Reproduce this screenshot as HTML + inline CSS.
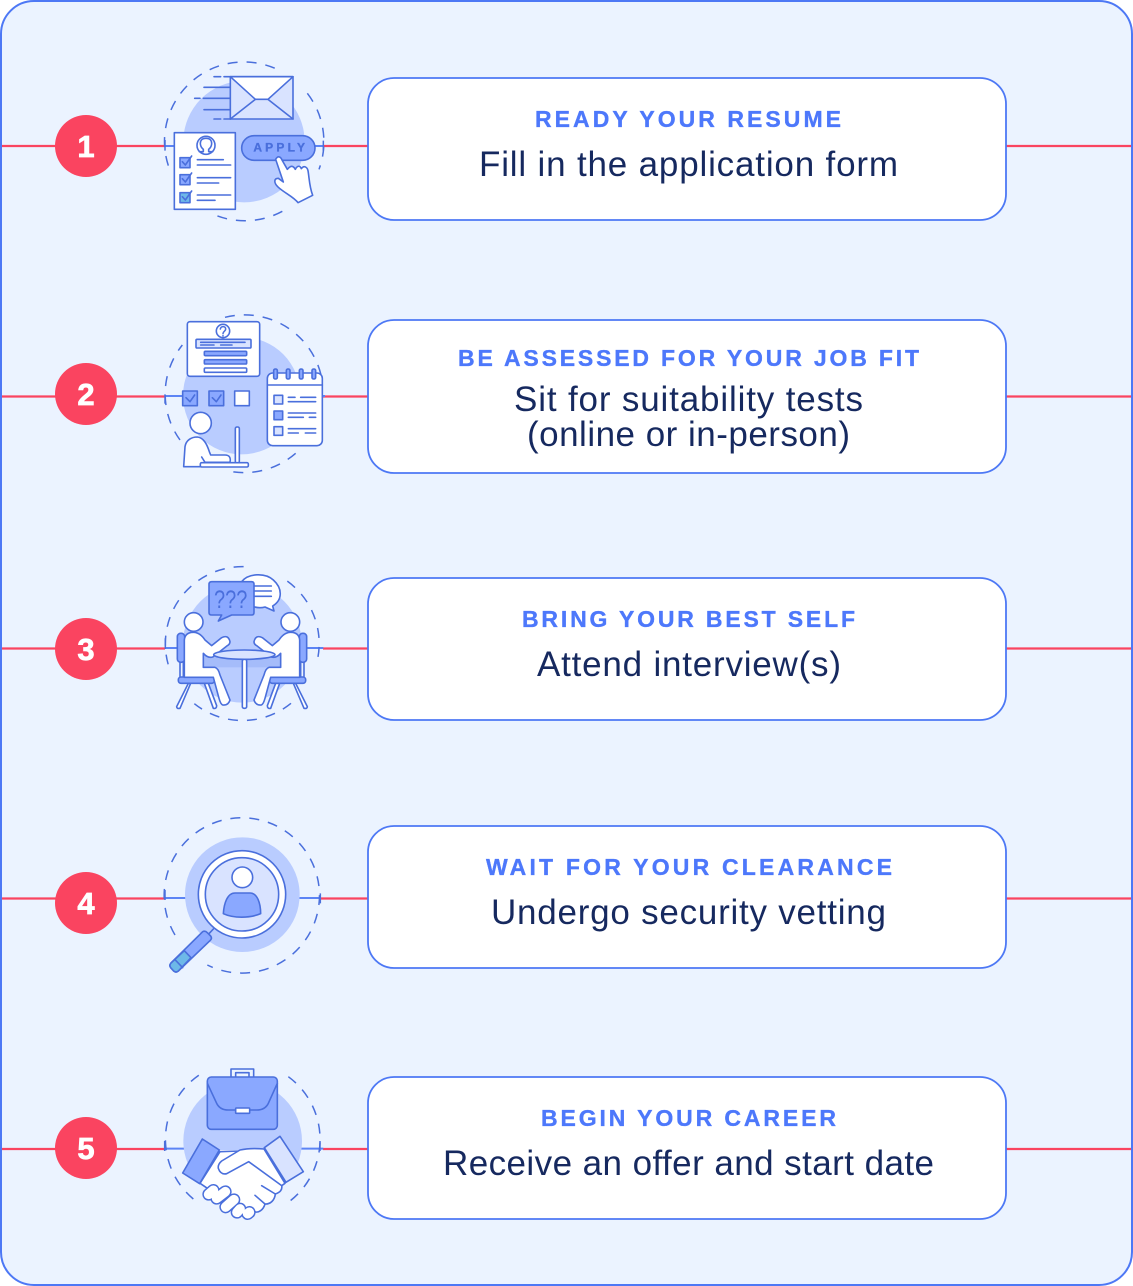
<!DOCTYPE html>
<html><head><meta charset="utf-8"><style>
html,body{margin:0;padding:0;background:#fff}
svg{display:block}
.l{font:700 23px "Liberation Sans",sans-serif;fill:#4d78fb;stroke:#4d78fb;stroke-width:.35;text-anchor:start}
.b{font:400 35px "Liberation Sans",sans-serif;fill:#16295f;text-anchor:start}
.n{font:700 31px "Liberation Sans",sans-serif;fill:#fff;stroke:#fff;stroke-width:.7;text-anchor:middle}
.bx{fill:#fff;stroke:#4d78f5;stroke-width:1.8}
.r{stroke:#fa4460;stroke-width:2.2;fill:none}
.i{stroke:#4a6fdc;stroke-width:4.8;fill:#fff;stroke-linejoin:round;stroke-linecap:round}
.i .m{fill:#8aa8ff}.i .p{fill:#d9e3ff}.i .t{fill:#6db8e8}.i .no{fill:none}
.d{fill:none;stroke:#4a6fdc;stroke-width:4.5;stroke-dasharray:30 27}
.k{fill:none;stroke:#4a6fdc;stroke-width:4.5}
.lc{fill:#b9ccff}
</style></head><body>
<svg width="1133" height="1286" viewBox="0 0 1133 1286" xmlns="http://www.w3.org/2000/svg">
<rect x="1" y="1" width="1131" height="1284" rx="33" fill="#ebf3ff" stroke="#4d78f5" stroke-width="2"/>

<!-- connectors -->
<path class="r" d="M2 146H165M323 146H368M1006 146H1131"/>
<path class="r" d="M2 396.500H165M323 396.500H368M1006 396.500H1131"/>
<path class="r" d="M2 648.500H165M323 648.500H368M1006 648.500H1131"/>
<path class="r" d="M2 898.500H165M320 898.500H368M1006 898.500H1131"/>
<path class="r" d="M2 1149H165M323 1149H368M1006 1149H1131"/>

<!-- number badges -->
<circle cx="86" cy="146" r="31" fill="#fa4460"/><text class="n" x="86" y="157">1</text>
<circle cx="86" cy="394" r="31" fill="#fa4460"/><text class="n" x="86" y="405">2</text>
<circle cx="86" cy="649" r="31" fill="#fa4460"/><text class="n" x="86" y="660">3</text>
<circle cx="86" cy="903" r="31" fill="#fa4460"/><text class="n" x="86" y="914">4</text>
<circle cx="86" cy="1148" r="31" fill="#fa4460"/><text class="n" x="86" y="1159">5</text>

<!-- cards -->
<rect class="bx" x="368" y="78" width="638" height="142" rx="26"/>
<rect class="bx" x="368" y="320" width="638" height="153" rx="26"/>
<rect class="bx" x="368" y="578" width="638" height="142" rx="26"/>
<rect class="bx" x="368" y="826" width="638" height="142" rx="26"/>
<rect class="bx" x="368" y="1077" width="638" height="142" rx="26"/>

<text class="l" x="535" y="127" textLength="306" lengthAdjust="spacing">READY YOUR RESUME</text>
<text class="b" x="479" y="176" textLength="419" lengthAdjust="spacing">Fill in the application form</text>
<text class="l" x="458" y="366" textLength="461" lengthAdjust="spacing">BE ASSESSED FOR YOUR JOB FIT</text>
<text class="b" x="514" y="411" textLength="349" lengthAdjust="spacing">Sit for suitability tests</text>
<text class="b" x="527" y="446" textLength="323" lengthAdjust="spacing">(online or in-person)</text>
<text class="l" x="522" y="627" textLength="333" lengthAdjust="spacing">BRING YOUR BEST SELF</text>
<text class="b" x="537" y="676" textLength="304" lengthAdjust="spacing">Attend interview(s)</text>
<text class="l" x="486" y="875" textLength="406" lengthAdjust="spacing">WAIT FOR YOUR CLEARANCE</text>
<text class="b" x="491" y="924" textLength="395" lengthAdjust="spacing">Undergo security vetting</text>
<text class="l" x="541" y="1126" textLength="295" lengthAdjust="spacing">BEGIN YOUR CAREER</text>
<text class="b" x="443" y="1175" textLength="491" lengthAdjust="spacing">Receive an offer and start date</text>

<!-- ICON 1 -->
<g transform="translate(150,50) scale(.33333)">
<path d="M45 288H73M495 288H520" fill="none" stroke="#5c84f5" stroke-width="6"/>
<path class="d" d="M55 347A238 238 0 0 1 375 55M472 130A238 238 0 0 1 507 358M397 484A238 238 0 0 1 200 497"/>
<path class="k" d="M45 270V302M520 272V302"/>
<circle class="lc" cx="282" cy="275" r="182"/>
<g class="i">
<path class="no" d="M192 80H212M222 80H241M162 112H241M134 145H150M160 145H241M162 179H241M192 207H212M222 207H241"/>
<rect class="p" x="241" y="80" width="188" height="127"/>
<path d="M241 80L316 148H354L429 80Z"/>
<path class="no" d="M241 207L316 148M429 207L354 148"/>
<rect x="73" y="248" width="183" height="230"/>
<circle class="no" cx="168" cy="286" r="27"/>
<path class="no" d="M148 305H160V298C153 292 151 285 151 280C151 270 158 265 168 265C178 265 185 270 185 280C185 285 183 292 176 298V305H188"/>
<rect class="m" x="90" y="323" width="30" height="30"/>
<rect class="m" x="90" y="374" width="30" height="30"/>
<rect class="t" x="90" y="428" width="30" height="30"/>
<path class="no" d="M97 335L106 345L125 318M97 386L106 396L125 369M97 440L106 450L125 423"/>
<path class="no" d="M142 329H220M142 345H242M142 383H242M142 399H206M142 435H242M142 451H195"/>
<rect class="m" x="275" y="257" width="220" height="74" rx="37"/>
<path d="M377 328C384 316 392 320 396 330L412 358L418 352C426 346 432 350 436 358C442 346 450 346 454 356C462 344 472 352 474 362C478 385 478 410 488 436L444 458C430 440 405 430 385 412C370 398 372 385 385 385L400 396Z"/>
</g>
<text x="310" y="305" textLength="155" lengthAdjust="spacing" style="font:700 36px 'Liberation Sans',sans-serif" fill="#4a6fdc" stroke="#4a6fdc" stroke-width="1">APPLY</text>
</g>

<!-- ICON 2 -->
<g transform="translate(150,305) scale(.33333)">
<path d="M45 273H97M517 273H525" fill="none" stroke="#5c84f5" stroke-width="6"/>
<path class="d" d="M225 37A236 236 0 0 1 517 230M437 445A236 236 0 0 1 245 500M90 405A236 236 0 0 1 97 120"/>
<path class="k" d="M45 268V296"/>
<circle class="lc" cx="275" cy="272" r="176"/>
<g class="i">
<rect x="112" y="50" width="217" height="164" rx="8"/>
<circle class="no" cx="219" cy="78" r="20"/>
<path class="no" d="M211 72C213 62 227 63 227 72C227 79 219 79 219 86M219 92V93"/>
<rect class="p" x="138" y="103" width="165" height="26" rx="3"/>
<path class="no" d="M152 112H285M152 120H192M212 120H246"/>
<rect class="m" x="163" y="139" width="127" height="13" rx="3"/>
<rect class="m" x="163" y="164" width="127" height="13" rx="3"/>
<rect x="163" y="189" width="127" height="13" rx="3"/>
<rect class="m" x="98" y="258" width="44" height="44"/>
<rect class="m" x="177" y="258" width="44" height="44"/>
<rect x="254" y="258" width="44" height="44"/>
<path class="no" d="M108 278L120 290L134 270M187 278L199 290L213 270"/>
<rect x="352" y="204" width="165" height="218" rx="16"/>
<path class="no" d="M352 240H517"/>
<rect class="m" x="371" y="192" width="11" height="30" rx="5"/>
<rect class="m" x="409" y="192" width="11" height="30" rx="5"/>
<rect class="m" x="448" y="192" width="11" height="30" rx="5"/>
<rect class="m" x="486" y="192" width="11" height="30" rx="5"/>
<rect class="p" x="372" y="271" width="26" height="26"/>
<rect class="m" x="372" y="318" width="26" height="26"/>
<rect class="p" x="372" y="365" width="26" height="26"/>
<path class="no" d="M415 277H435M452 277H497M415 290H497M415 324H497M415 337H460M478 337H497M415 371H497M415 384H445M466 384H497"/>
<circle cx="152" cy="354" r="32"/>
<rect x="256" y="366" width="12" height="108" rx="5"/>
<path d="M101 485L105 425C108 405 125 396 142 396C160 398 170 415 178 440L182 450H225C238 450 243 458 240 472H165L155 456L165 472V485Z"/>
<rect x="151" y="473" width="144" height="13" rx="4"/>
</g>
</g>

<!-- ICON 3 -->
<g transform="translate(150,555) scale(.33333)">
<path d="M45 279H85M470 279H520" fill="none" stroke="#5c84f5" stroke-width="6"/>
<path class="d" d="M54.500 328A231 231 0 0 1 292 35.500M412 78.500A231 231 0 0 1 500 324M423 445A231 231 0 0 1 133 446"/>
<path class="k" d="M46 250V282"/>
<circle class="lc" cx="277" cy="265" r="178"/>
<rect x="160" y="300" width="232" height="37" fill="#8fa9f5" opacity=".45"/>
<g class="i">
<path d="M275 80C295 55 345 52 370 75C398 100 398 135 368 153L372 168L345 156C325 162 300 155 285 140Z"/>
<path class="no" d="M312 93H364M312 108H364M312 124H364"/>
<path class="m" d="M185 80H305Q312 80 312 88V172Q312 180 305 180H245L205 198L215 180H185Q177 180 177 172V88Q177 80 185 80Z"/>
<g>
<rect class="m" x="82" y="235" width="22" height="87" rx="10"/>
<path class="no" d="M90 322V365M100 322V365"/>
<path d="M115 385L80 455Q80 462 90 460L122 385Z"/>
<path d="M163 385L190 460Q200 462 200 452L175 385Z"/>
<rect class="m" x="85" y="366" width="108" height="19" rx="8"/>
<path d="M103 367V255Q105 232 130 232Q150 232 165 255L185 272L215 248Q235 238 240 260Q240 268 232 272L190 305Q175 312 160 295V337H195Q205 340 210 360L240 435Q235 452 218 450Q212 448 207 430L190 367Z"/>
<circle cx="131" cy="201" r="28"/>
</g>
<g transform="translate(552,0) scale(-1,1)">
<rect class="m" x="82" y="235" width="22" height="87" rx="10"/>
<path class="no" d="M90 322V365M100 322V365"/>
<path d="M115 385L80 455Q80 462 90 460L122 385Z"/>
<path d="M163 385L190 460Q200 462 200 452L175 385Z"/>
<rect class="m" x="85" y="366" width="108" height="19" rx="8"/>
<path d="M103 367V255Q105 232 130 232Q150 232 165 255L185 272L215 248Q235 238 240 260Q240 268 232 272L190 305Q175 312 160 295V337H195Q205 340 210 360L240 435Q235 452 218 450Q212 448 207 430L190 367Z"/>
<circle cx="131" cy="201" r="28"/>
</g>
<ellipse class="p" cx="283" cy="299" rx="92" ry="14"/>
<rect x="277" y="313" width="13" height="147" rx="5"/>
</g>
<text x="192" y="159" textLength="100" lengthAdjust="spacingAndGlyphs" style="font:400 74px 'Liberation Sans',sans-serif" fill="#4a6fdc">???</text>
</g>

<!-- ICON 4 -->
<g transform="translate(150,805) scale(.33333)">
<path d="M45 279H110M445 279H512" fill="none" stroke="#5c84f5" stroke-width="6"/>
<path class="d" d="M75 390A233 233 0 1 1 172 480"/>
<path class="k" d="M45 255V285M511 265V295"/>
<circle class="lc" cx="277" cy="269" r="172"/>
<g class="i">
<path class="no" d="M178 385L190 372"/>
<circle cx="276" cy="268" r="131"/>
<circle class="p" cx="276" cy="268" r="110"/>
<circle cx="277" cy="217" r="31"/>
<path class="m" d="M220 326C222 295 232 264 255 264H300C322 264 332 295 332 326C300 340 250 340 220 326Z"/>
<path class="m" d="M158 380Q165 376 172 383L182 393Q187 400 181 406L85 498Q78 504 71 498L62 488Q57 481 63 474Z"/>
<path class="t" d="M63 474L103 437L123 458L85 498Q78 504 71 498L62 488Q57 481 63 474Z"/>
<path class="no" d="M74 463L98 488"/>
</g>
</g>

<!-- ICON 5 -->
<g transform="translate(150,1055) scale(.33333)">
<path d="M45 281H110M450 281H520" fill="none" stroke="#5c84f5" stroke-width="6"/>
<path class="d" d="M130 432A234 234 0 0 1 155 55M415 65A234 234 0 0 1 400 452"/>
<path class="k" d="M44 258V288M510 258V288"/>
<circle class="lc" cx="278" cy="258" r="178"/>
<path d="M205 285H345V370H205Z" fill="#fff" stroke="none"/>
<g class="i">
<path class="no" d="M243 66V42H311V66M257 66V53H297V66"/>
<rect class="m" x="172" y="66" width="210" height="157" rx="12"/>
<path class="no" d="M172 85L200 145Q210 165 235 165H320Q345 165 355 145L382 85"/>
<rect x="257" y="159" width="42" height="16" rx="2"/>
<path d="M150 385L210 290L270 288L300 320L395 390C398 405 390 412 376 417C374 435 362 448 345 447C340 465 325 475 313 470C310 485 298 495 285 490L230 440L165 395Z"/>
<path class="no" d="M335 392L376 417M315 421L345 447M298 455L313 470"/>
<path fill="none" stroke="#4a6fdc" stroke-width="38" d="M293 476L298 472M261 472L270 462M227 456L252 434M200 430L226 410M176 418L190 406"/>
<path fill="none" stroke="#fff" stroke-width="29" d="M293 476L298 472M261 472L270 462M227 456L252 434M200 430L226 410M176 418L190 406"/>
<path d="M270 285Q300 278 342 282L405 385L395 392L296 320L230 356Q212 360 205 340Q203 328 215 318Z"/>
<path class="m" d="M157 252L208 285L149 386L98 354Z"/>
<path class="p" d="M390 244L460 350L408 382L343 278Z"/>
</g>
</g>
</svg>
</body></html>
